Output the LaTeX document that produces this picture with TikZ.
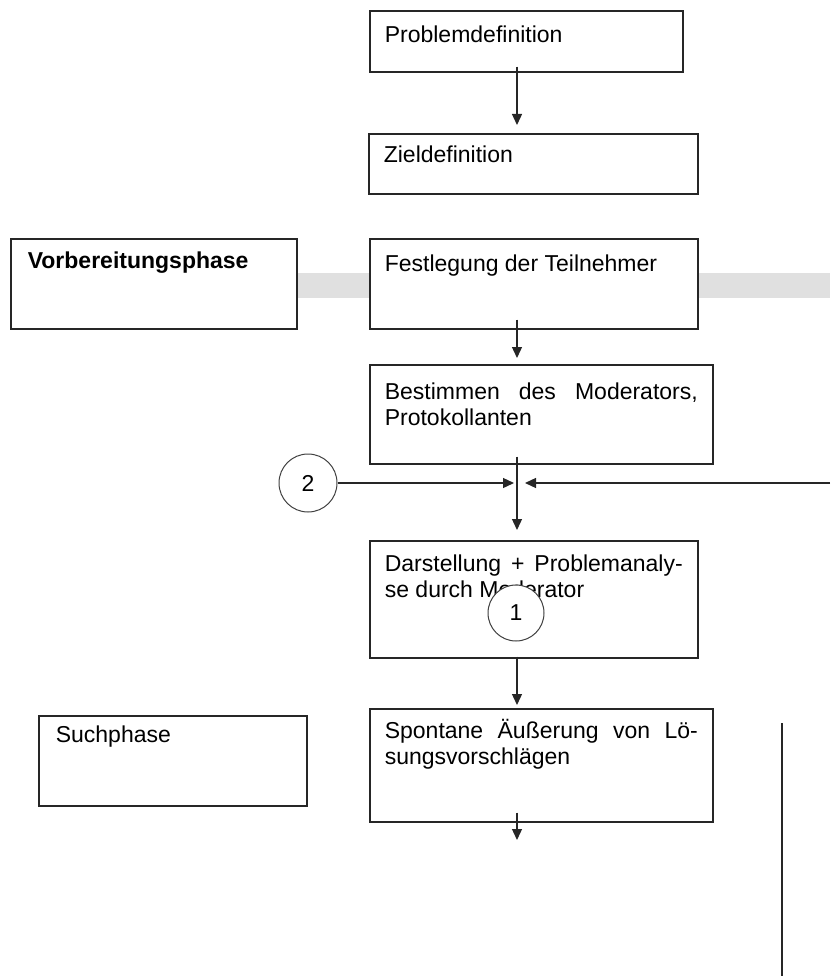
\documentclass[tikz,border=0pt]{standalone}
\usepackage{fontspec}
\setmainfont{Liberation Sans}
\usetikzlibrary{arrows.meta,calc}
\hbadness=10000
\begin{document}
\begin{tikzpicture}[x=1pt,y=-1pt,
  every node/.style={font=\fontsize{23}{25.5}\selectfont},
  panel/.style={draw=black!85, fill=white, line width=1.6pt, anchor=north west,
    inner xsep=15pt, inner ysep=0pt, align=justify},
  sidepanel/.style={panel, inner xsep=17pt},
  flow/.style={draw=black!85, line width=1.3pt, -{Triangle[length=11pt,width=10pt]}},
  plain/.style={draw=black!85, line width=1.3pt},
  marker/.style={circle, draw=black!75, fill=white, line width=1pt, inner sep=0pt, minimum size=#1}
]
\useasboundingbox (0,0) rectangle (830,976);

% grey phase band behind the preparation row
\fill[black!12] (296,273) rectangle (830,298);

% helper coordinates for the main flow column
\coordinate (colx) at (517,0);
\coordinate (junc) at (517,483);
\coordinate (redge) at (830,483);
\coordinate (next) at (517,840);
\coordinate (vtop) at (782,723);
\coordinate (vbot) at (782,976);

% process steps
\node[panel, text width=283pt, text height=32pt, text depth=29pt] (prob) at (369,10) {Problemdefinition};
\node[panel, text width=299pt, text height=29pt, text depth=31pt] (ziel) at (368,133) {Zieldefinition};
\node[panel, text width=298pt, text height=33pt, text depth=57pt] (fest) at (369,238) {Festlegung der Teilnehmer};
\node[panel, text width=313pt, text height=35pt, text depth=64pt] (best) at (369,364) {Bestimmen des Moderators,\linebreak Protokollanten};
\node[panel, text width=298pt, text height=31pt, text depth=86pt] (darst) at (369,540) {Darstellung + Problemanaly-\linebreak se durch Moderator};
\node[panel, text width=313pt, text height=30pt, text depth=83pt] (spont) at (369,708) {Spontane Äußerung von Lö-\linebreak sungsvorschlägen};

% phase labels
\node[sidepanel, text width=252pt, text height=30pt, text depth=60pt] (vorb) at (10,238) {\bfseries Vorbereitungsphase};
\node[sidepanel, text width=234pt, text height=27pt, text depth=63pt] (such) at (38,715) {Suchphase};

% connectors
\draw[flow] ($(prob.south -| colx)+(0,-6)$) -- ($(ziel.north -| colx)+(0,-8)$);
\draw[flow] ($(fest.south -| colx)+(0,-10)$) -- ($(best.north -| colx)+(0,-6)$);
\draw[flow] ($(best.south -| colx)+(0,-8)$) -- ($(darst.north -| colx)+(0,-10)$);
\draw[flow] ($(darst.south -| colx)+(0,-2)$) -- ($(spont.north -| colx)+(0,-3)$);
\draw[flow] ($(spont.south -| colx)+(0,-10)$) -- (next);

% return markers
\node[marker=58pt] (c2) at (308,483) {2};
\draw[flow] (c2.east) -- ($(junc)+(-3,0)$);
\draw[flow] (redge) -- ($(junc)+(8,0)$);
\node[marker=56pt] (c1) at (516,613) {1};

% side line of the search phase
\draw[plain] (vtop) -- (vbot);
\end{tikzpicture}
\end{document}
